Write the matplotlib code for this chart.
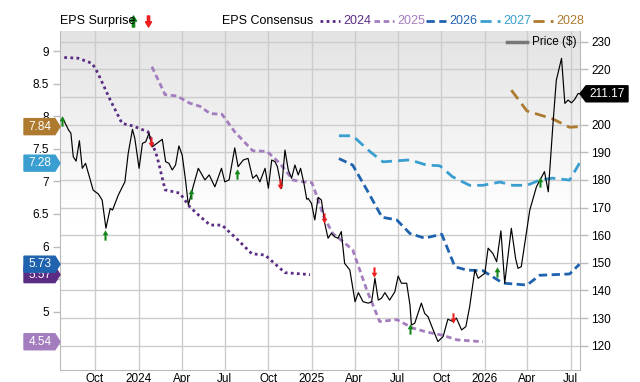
import numpy as np
import matplotlib
matplotlib.use("Agg")
import matplotlib.pyplot as plt
from matplotlib.path import Path
from matplotlib.lines import Line2D
from matplotlib.patches import Polygon
from matplotlib.ticker import FuncFormatter
from matplotlib.transforms import blended_transform_factory

plt.rcParams["font.family"] = ["Liberation Sans", "DejaVu Sans"]

# day offsets are counted from 2023-10-01
BASE = np.datetime64("2023-10-01")

price_days = [-69, -56, -51, -46, -40, -33, -27, -20, -4, 7, 15, 23, 32, 37, 49, 63,
              70, 79, 84, 93, 100, 107, 114, 121, 142, 149, 156, 163, 170, 177, 184,
              191, 197, 207, 218, 232, 241, 253, 267, 274, 283, 295, 302, 313, 323,
              333, 341, 348, 359, 366, 373, 380, 385, 394, 401, 408, 415, 422, 429,
              434, 441, 447, 450, 457, 464, 471, 478, 485, 492, 499, 506, 513, 520,
              527, 538, 549, 556, 566, 577, 584, 591, 598, 605, 612, 622, 633, 640,
              647, 658, 665, 668, 675, 682, 689, 696, 703, 714, 724, 735, 745, 756,
              763, 774, 783, 791, 802, 809, 823, 830, 840, 848, 857, 865, 879, 888,
              893, 900, 918, 932, 949, 957, 967, 974, 985, 992, 999, 1006, 1013,
              1020, 1023]
price_vals = [202.6, 198.1, 196.9, 188.4, 186.8, 194.2, 184.2, 186.0, 176.3, 174.9,
              172.7, 162.5, 169.7, 169.1, 174.5, 179.3, 189.6, 198.3, 195.0, 184.2,
              193.2, 193.8, 196.9, 192.0, 194.7, 186.6, 186.0, 183.6, 185.4, 192.3,
              189.0, 180.0, 170.9, 177.5, 184.2, 180.0, 181.8, 177.5, 184.2, 179.3,
              180.0, 191.6, 184.8, 187.2, 187.8, 180.6, 181.8, 179.3, 184.2, 177.0,
              187.2, 186.6, 184.8, 177.0, 190.8, 183.6, 180.6, 185.4, 181.8, 184.2,
              178.8, 173.0, 173.3, 171.5, 165.5, 173.7, 172.7, 164.3, 158.9, 160.7,
              159.4, 158.9, 161.3, 149.8, 147.4, 135.9, 139.2, 135.9, 135.4, 135.9,
              144.4, 136.5, 137.2, 139.2, 136.5, 139.5, 145.2, 142.6, 142.6, 134.7,
              127.5, 128.1, 131.7, 135.4, 131.7, 130.5, 125.7, 121.5, 123.3, 129.6,
              128.7, 130.0, 125.7, 126.9, 134.1, 147.4, 144.4, 146.2, 155.3, 153.4,
              150.4, 161.6, 142.6, 162.5, 151.6, 148.0, 148.6, 169.1, 177.5, 183.0,
              175.7, 200.5, 216.1, 224.0, 207.7, 208.9, 207.9, 209.2, 211.3, 211.17]

eps_2024_days = [-65, -36, -6, 6, 32, 57, 80, 112, 131, 148, 179, 200, 222, 243, 268,
                 302, 331, 359, 401, 454]
eps_2024 = [8.90, 8.89, 8.81, 8.66, 8.25, 7.89, 7.85, 7.76, 7.38, 6.87, 6.82, 6.61,
            6.46, 6.33, 6.33, 6.10, 5.89, 5.87, 5.60, 5.57]

eps_2025_days = [120, 148, 173, 200, 222, 243, 268, 295, 333, 363, 390, 418, 433, 458,
                 466, 483, 502, 523, 544, 574, 601, 637, 671, 700, 734, 764, 819]
eps_2025 = [8.76, 8.33, 8.31, 8.20, 8.15, 8.04, 8.03, 7.76, 7.47, 7.46, 7.28, 7.02,
            7.00, 6.98, 6.82, 6.46, 6.20, 6.08, 5.95, 5.33, 4.85, 4.88, 4.75, 4.69,
            4.64, 4.57, 4.54]

eps_2026_days = [515, 544, 574, 606, 637, 665, 696, 732, 760, 785, 819, 861, 912, 939,
                 1002, 1023]
eps_2026 = [7.35, 7.25, 6.87, 6.45, 6.41, 6.20, 6.13, 6.19, 5.69, 5.64, 5.63, 5.44,
            5.41, 5.56, 5.58, 5.73]

eps_2027_days = [515, 544, 580, 608, 665, 700, 728, 755, 791, 819, 855, 882, 912, 939,
                 966, 1002, 1023]
eps_2027 = [7.70, 7.70, 7.46, 7.30, 7.33, 7.25, 7.24, 7.07, 6.94, 6.94, 6.99, 6.94,
            6.94, 7.02, 7.05, 7.02, 7.28]

eps_2028_days = [879, 912, 966, 1002, 1023]
eps_2028 = [8.40, 8.08, 7.96, 7.83, 7.84]

beat_days = [-70, 21, 203, 300, 665, 848, 939]
beat_price = [201.3, 160.1, 174.9, 182.1, 126.0, 146.7, 179.3]
miss_days = [118, 390, 483, 589, 755]
miss_price = [193.7, 178.5, 166.2, 146.7, 130.0]

last_price = 211.17

tick_days = [0, 92, 183, 274, 366, 458, 548, 639, 731, 823, 913, 1004]
tick_labels = ["Oct", "2024", "Apr", "Jul", "Oct", "2025", "Apr", "Jul", "Oct",
               "2026", "Apr", "Jul"]
eps_ticks = [4.5, 5, 5.5, 6, 6.5, 7, 7.5, 8, 8.5, 9]

series = [
    ("2024", eps_2024_days, eps_2024, "#5b2c84", (0, (1, 1.2)), 2.0),
    ("2025", eps_2025_days, eps_2025, "#a47dbf", (0, (2, 1.3)), 2.0),
    ("2026", eps_2026_days, eps_2026, "#1f62ae", (0, (3, 1.6)), 2.0),
    ("2027", eps_2027_days, eps_2027, "#3a9fd0", (0, (4, 2.2)), 2.0),
    ("2028", eps_2028_days, eps_2028, "#ad7a2f", (0, (4, 2.2)), 2.0),
]

GREEN = "#13861a"
RED = "#ee1c1c"
GRID = "#cccccc"


def dates(days):
    return BASE + np.array(days).astype("timedelta64[D]")


up_arrow = Path([(-0.55, 0.05), (0, 1), (0.55, 0.05), (0.2, 0.05), (0.2, -1),
                 (-0.2, -1), (-0.2, 0.05), (-0.55, 0.05)])
down_arrow = Path([(x, -y) for x, y in up_arrow.vertices])

W, H = 640, 382
fig = plt.figure(figsize=(6.4, 3.82), dpi=100)
ax = fig.add_axes([60 / W, 12 / H, 520 / W, 339 / H])
ax2 = ax.twinx()

ax.set_xlim(dates([-74])[0], dates([1024])[0])
ax.set_ylim(4.107, 9.307)
ax2.set_ylim(111.2, 233.9)

# grey-to-white background
grad = np.linspace(0.89, 1.0, 100)
grad = np.concatenate([grad, np.ones(80)])[:, None]
ax.imshow(np.dstack([grad, grad, grad]), extent=[0, 1, 0, 1], transform=ax.transAxes,
          aspect="auto", origin="upper", zorder=0)

# gridlines
ax.set_xticks(dates(tick_days))
ax.set_xticklabels(tick_labels)
ax.grid(axis="x", color=GRID, lw=1, zorder=0.5)
ax.set_axisbelow(True)
blend = blended_transform_factory(ax.transAxes, ax2.transData)
price_ticks = np.arange(120, 231, 10)
for p in price_ticks:
    ax.plot([0, 1], [p, p], transform=blend, color=GRID, lw=1, zorder=0.6)

for name, d, v, c, ls, lw in series:
    ax.plot(dates(d), v, color=c, ls=ls, lw=lw, zorder=2)

ax2.plot(dates(price_days), price_vals, color="black", lw=0.85, zorder=3)
ax2.scatter(dates(beat_days), beat_price, marker=up_arrow, s=55, color=GREEN,
            lw=0, zorder=4)
ax2.scatter(dates(miss_days), miss_price, marker=down_arrow, s=55, color=RED,
            lw=0, zorder=4)

# axes styling
for a in (ax, ax2):
    for s in a.spines.values():
        s.set_visible(False)
for side in ("left", "bottom"):
    ax.spines[side].set_visible(True)
    ax.spines[side].set_color("#bbbbbb")
ax2.spines["right"].set_visible(True)
ax2.spines["right"].set_color("#bbbbbb")

# 5.5 and 4.5 sit under the value tags
ax.set_yticks(eps_ticks)
ax.yaxis.set_major_formatter(
    FuncFormatter(lambda v, _: "" if v in (4.5, 5.5) else f"{v:g}"))
ax.tick_params(axis="y", length=5, width=1, color="#bbbbbb", pad=3, labelsize=8.5)
ax.tick_params(axis="x", length=0, pad=2, labelsize=8.5)
ax2.set_yticks(price_ticks)
ax2.tick_params(axis="y", length=6, width=1, color="#bbbbbb", pad=2, labelsize=8.5)

# price legend inside the plot
fig.add_artist(Line2D([507 / W, 527 / W], [1 - 41.7 / H] * 2, color="#777777", lw=2.5))
fig.text(532 / W, 1 - 41.7 / H, "Price ($)", fontsize=8.5, va="center", ha="left")

# header
hy = 1 - 21 / H
fig.text(60 / W, hy, "EPS Surprise", fontsize=9, va="center", ha="left")
fig.add_artist(Line2D([133 / W], [hy], marker=up_arrow, ms=8, color=GREEN, lw=0))
fig.add_artist(Line2D([148 / W], [hy], marker=down_arrow, ms=8, color=RED, lw=0))
fig.text(222 / W, hy, "EPS Consensus", fontsize=9, va="center", ha="left")
legend_x = [320, 374, 426, 480, 533]
for (name, d, v, c, ls, lw), lx in zip(series, legend_x):
    fig.add_artist(Line2D([lx / W, (lx + 20) / W], [hy, hy], color=c, ls=ls, lw=lw))
    fig.text((lx + 23) / W, hy, name, fontsize=9, va="center", ha="left", color=c)

# value tags on the left (EPS) and right (price)
left_tr = blended_transform_factory(fig.transFigure, ax.transData)
hh = 8 / 65.2
for k, (name, d, v, c, ls, lw) in enumerate([series[i] for i in (4, 3, 0, 2, 1)]):
    val = v[-1]
    xs = np.array([24, 55, 60, 55, 24]) / W
    ys = [val + hh, val + hh, val, val - hh, val - hh]
    fig.add_artist(Polygon(np.column_stack([xs, ys]), closed=True, color=c,
                           transform=left_tr, clip_on=False, zorder=5 + 2 * k))
    fig.text(40 / W, val, f"{val:.2f}", transform=left_tr, color="white",
             fontsize=8.5, ha="center", va="center", zorder=6 + 2 * k)

right_tr = blended_transform_factory(fig.transFigure, ax2.transData)
ph = 8 / 2.764
xs = np.array([580, 586, 628, 628, 586]) / W
ys = [last_price, last_price + ph, last_price + ph, last_price - ph, last_price - ph]
fig.add_artist(Polygon(np.column_stack([xs, ys]), closed=True, color="black",
                       transform=right_tr, clip_on=False, zorder=20))
fig.text(607 / W, last_price, f"{last_price:.2f}", transform=right_tr, color="white",
         fontsize=8.5, ha="center", va="center", zorder=21)

fig.savefig("out.png", dpi=100)
